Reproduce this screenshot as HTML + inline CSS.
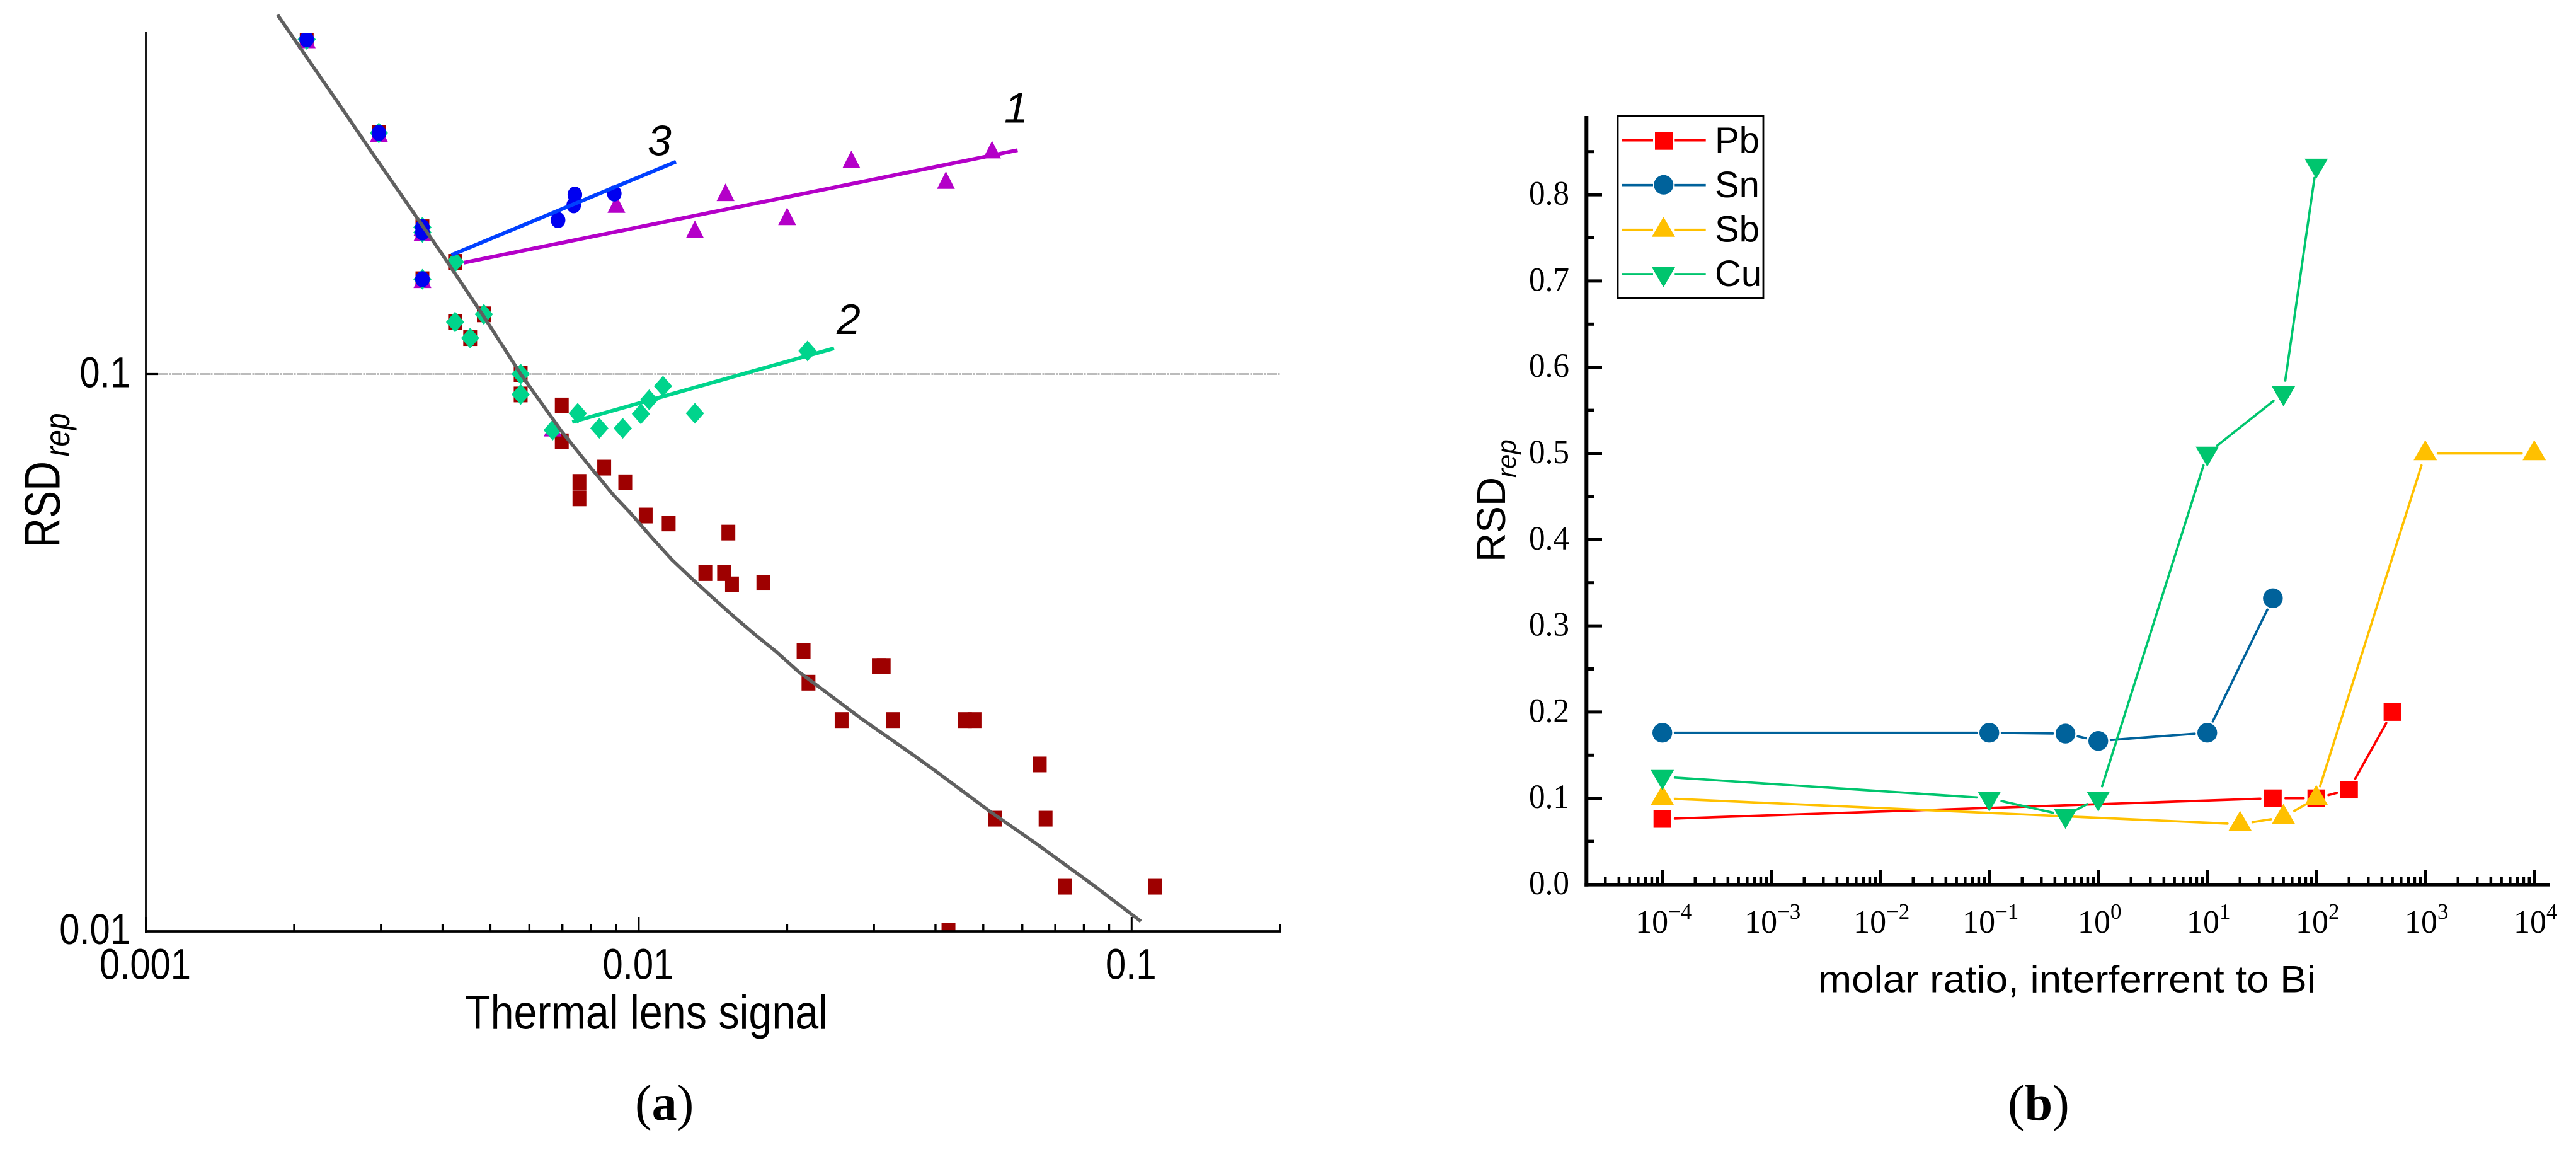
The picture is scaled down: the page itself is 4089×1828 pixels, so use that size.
<!DOCTYPE html>
<html lang="en">
<head>
<meta charset="utf-8">
<title>RSD vs thermal lens signal and molar ratio</title>
<style>
html,body{margin:0;padding:0;background:#fff;width:4089px;height:1828px;overflow:hidden}
svg{display:block}
text{font-family:"Liberation Sans",sans-serif;fill:#000}
.serif{font-family:"Liberation Serif",serif}
</style>
</head>
<body>
<svg id="figure" xmlns="http://www.w3.org/2000/svg" width="4089" height="1828" viewBox="0 0 4089 1828">
  <defs>
    <clipPath id="clip-a"><rect x="232" y="52" width="1802" height="1425"/></clipPath>
  </defs>
  <rect x="0" y="0" width="4089" height="1828" fill="#fff"/>

  <g id="panel-a">
    <line x1="251" y1="593.5" x2="2033" y2="593.5" stroke="#a6a6a6" stroke-width="2.5" stroke-dasharray="16 1.5 3 1.5"/>
    <g id="a-marks" clip-path="url(#clip-a)"></g>
    <g id="a-lines"></g>
    <g id="a-axes"></g>
    <text x="738" y="1632.5" font-size="76" textLength="576" lengthAdjust="spacingAndGlyphs">Thermal lens signal</text>
    <text transform="translate(94.7,869) rotate(-90)" font-size="80" textLength="137" lengthAdjust="spacingAndGlyphs">RSD</text>
    <text transform="translate(110,724.5) rotate(-90)" font-size="56" font-style="italic" textLength="69" lengthAdjust="spacingAndGlyphs">rep</text>
    <text x="1594" y="194.5" font-size="68" font-style="italic">1</text>
    <text x="1328" y="530" font-size="68" font-style="italic">2</text>
    <text x="1028" y="246.5" font-size="68" font-style="italic">3</text>
    <text class="serif" x="1008" y="1777" font-size="80">(<tspan font-weight="bold">a</tspan>)</text>
  </g>

  <g id="panel-b">
    <g id="b-lines"></g>
    <g id="b-marks"></g>
    <g id="b-axes"></g>
    <text x="2886" y="1574.5" font-size="60" textLength="790" lengthAdjust="spacingAndGlyphs">molar ratio, interferrent to Bi</text>
    <text transform="translate(2389,892) rotate(-90)" font-size="64">RSD</text>
    <text transform="translate(2406,758) rotate(-90)" font-size="42" font-style="italic">rep</text>
    <text class="serif" x="3187" y="1777.5" font-size="80">(<tspan font-weight="bold">b</tspan>)</text>

    <g id="legend">
      <rect x="2568" y="184" width="231" height="289" fill="#fff" stroke="#000" stroke-width="2.8"/>
      <g>
        <line x1="2574" y1="222.7" x2="2624" y2="222.7" stroke="#ff0000" stroke-width="3.7"/>
        <line x1="2658.3" y1="222.7" x2="2707.7" y2="222.7" stroke="#ff0000" stroke-width="3.7"/>
        <rect x="2627" y="210" width="29" height="27.7" fill="#ff0000"/>
        <text x="2722" y="242.3" font-size="58">Pb</text>
      </g>
      <g>
        <line x1="2574" y1="293.7" x2="2624" y2="293.7" stroke="#00629b" stroke-width="3.7"/>
        <line x1="2658.3" y1="293.7" x2="2707.7" y2="293.7" stroke="#00629b" stroke-width="3.7"/>
        <circle cx="2640.8" cy="293.3" r="15.5" fill="#00629b"/>
        <text x="2722" y="313" font-size="58">Sn</text>
      </g>
      <g>
        <line x1="2574" y1="364.7" x2="2624" y2="364.7" stroke="#ffc000" stroke-width="3.7"/>
        <line x1="2658.3" y1="364.7" x2="2707.7" y2="364.7" stroke="#ffc000" stroke-width="3.7"/>
        <polygon points="2640.5,344 2622,375.7 2659,375.7" fill="#ffc000"/>
        <text x="2722" y="383.5" font-size="58">Sb</text>
      </g>
      <g>
        <line x1="2574" y1="435" x2="2624" y2="435" stroke="#00c56e" stroke-width="3.7"/>
        <line x1="2658.3" y1="435" x2="2707.7" y2="435" stroke="#00c56e" stroke-width="3.7"/>
        <polygon points="2622,424 2659,424 2640.5,456" fill="#00c56e"/>
        <text x="2722" y="454" font-size="58">Cu</text>
      </g>
    </g>
  </g>
</svg>

<script>
/* ---------- Panel (a) data ---------- */
const aSquareX = [0.00212,0.00297,0.00364,0.00364,0.00364,0.00424,0.00424,0.00455,0.00485,0.00576,0.00576,0.00698,0.00698,0.00758,0.00758,0.00851,0.00939,0.01033,0.0115,0.0152,0.01365,0.0149,0.01546,0.0179,0.0216,0.0221,0.0258,0.0307,0.0314,0.0328,0.0459,0.048,0.0651,0.0529,0.0669,0.0733,0.1115,0.0425];
const aSquareY = [0.399,0.271,0.1835,0.1796,0.148,0.159,0.124,0.116,0.128,0.1,0.0919,0.0878,0.0757,0.064,0.0598,0.0679,0.0639,0.0557,0.0539,0.0519,0.0439,0.0439,0.0419,0.0422,0.0318,0.0279,0.0239,0.0299,0.0299,0.0239,0.0239,0.0239,0.0199,0.0159,0.0159,0.012,0.012,0.01];
const aTriangleX = [0.00212,0.00297,0.00364,0.00364,0.00364,0.00669,0.00901,0.013,0.015,0.02,0.027,0.042,0.0521];
const aTriangleY = [0.399,0.271,0.1835,0.1796,0.148,0.0801,0.202,0.182,0.212,0.192,0.243,0.223,0.253];
const aDiamondX = [0.00212,0.00297,0.00364,0.00364,0.00364,0.00424,0.00424,0.00455,0.00485,0.00576,0.00576,0.00669,0.00752,0.00832,0.00928,0.0101,0.0105,0.0112,0.013,0.022];
const aDiamondY = [0.399,0.271,0.1835,0.1796,0.148,0.159,0.124,0.116,0.128,0.1,0.0919,0.0793,0.085,0.0799,0.0799,0.0848,0.0899,0.0951,0.085,0.11];
const aCircleX = [0.00212,0.00297,0.00364,0.00364,0.00364,0.00686,0.00738,0.00742,0.00892];
const aCircleY = [0.399,0.271,0.1835,0.1796,0.148,0.189,0.201,0.21,0.211];
const aFit1X = [0.00442,0.0587];
const aFit1Y = [0.1585,0.2524];
const aFit2X = [0.00733,0.0249];
const aFit2Y = [0.082,0.1112];
const aFit3X = [0.00417,0.0119];
const aFit3Y = [0.1636,0.2406];
const aCurveX = [0.00185,0.002146,0.00248,0.002863,0.003377,0.003988,0.00485,0.00576,0.006966,0.008045,0.008285,0.008875,0.0096,0.01059,0.01168,0.01289,0.01421,0.01568,0.01729,0.01907,0.02104,0.02321,0.0256,0.02824,0.03116,0.03608,0.0397,0.0517,0.0647,0.0842,0.1044];
const aCurveY = [0.4418,0.3648,0.3031,0.2513,0.2034,0.1643,0.1268,0.1,0.079,0.06737,0.06536,0.06069,0.05639,0.05103,0.04638,0.0427,0.03948,0.03652,0.03393,0.03164,0.02926,0.02742,0.02569,0.02407,0.02265,0.02068,0.01946,0.01636,0.01425,0.01202,0.0104];
const aXTickValues = [0.001,0.01,0.1];
const aXTickLabels = ['0.001','0.01','0.1'];
const aYTickValues = [0.1,0.01];
const aYTickLabels = ['0.1','0.01'];

/* ---------- Panel (b) data ---------- */
const bPbX = [0.0001,40,100,200,500];
const bPbY = [0.076,0.1,0.1,0.11,0.2];
const bSnX = [0.0001,0.1,0.5,1,10,40];
const bSnY = [0.176,0.176,0.175,0.1665,0.176,0.332];
const bSbX = [0.0001,20,50,100,1000,10000];
const bSbY = [0.1,0.07,0.078,0.1,0.5,0.5];
const bCuX = [0.0001,0.1,0.5,1,10,50,100];
const bCuY = [0.125,0.1,0.08,0.1,0.5,0.57,0.834];
const bYTickValues = [0,0.1,0.2,0.3,0.4,0.5,0.6,0.7,0.8];
const bYTickLabels = ['0.0','0.1','0.2','0.3','0.4','0.5','0.6','0.7','0.8'];
const bYMinorValues = [0.05,0.15,0.25,0.35,0.45,0.55,0.65,0.75,0.85];
const bXExponents = [-4,-3,-2,-1,0,1,2,3,4];
const bXExponentLabels = ['\u22124','\u22123','\u22122','\u22121','0','1','2','3','4'];

/* ---------- Axis functions ---------- */
const aX = v => 231.5 + (Math.log10(v) + 3) * 782.4;
const aY = v => 1477 - (Math.log10(v) + 2) * 883.5;
const bX = v => 2638.7 + (Math.log10(v) + 4) * 173;
const bY = v => 1403.5 - v * 1368;

const NS = 'http://www.w3.org/2000/svg';
function mk(tag, attrs, parent) {
  const el = document.createElementNS(NS, tag);
  for (const k in attrs) el.setAttribute(k, attrs[k]);
  parent.appendChild(el);
  return el;
}
const aMarks = document.getElementById('a-marks');
const aLines = document.getElementById('a-lines');
const aAxes = document.getElementById('a-axes');
const bMarks = document.getElementById('b-marks');
const bLines = document.getElementById('b-lines');
const bAxes = document.getElementById('b-axes');

/* ---------- Panel (a) marks ---------- */
aSquareX.forEach((v, i) => {
  const el = mk('rect', {x: aX(v) - 11, y: aY(aSquareY[i]) - 12.5, width: 22, height: 25, fill: '#9e0000'}, aMarks);
  
  
});
aTriangleX.forEach((v, i) => {
  const x = aX(v), y = aY(aTriangleY[i]);
  const el = mk('polygon', {points: `${x},${y - 14} ${x - 14.2},${y + 14} ${x + 14.2},${y + 14}`, fill: '#b400c8'}, aMarks);
  
  
});
aDiamondX.forEach((v, i) => {
  const x = aX(v), y = aY(aDiamondY[i]);
  const el = mk('polygon', {points: `${x},${y - 16.5} ${x + 14.5},${y} ${x},${y + 16.5} ${x - 14.5},${y}`, fill: '#00d48c'}, aMarks);
  
  
});
aCircleX.forEach((v, i) => {
  const el = mk('ellipse', {cx: aX(v), cy: aY(aCircleY[i]), rx: 11.6, ry: 12.8, fill: '#0000f0'}, aMarks);
  
  
});

const fit3 = mk('line', {x1: aX(aFit3X[0]), y1: aY(aFit3Y[0]), x2: aX(aFit3X[1]), y2: aY(aFit3Y[1]), stroke: '#0040ff', 'stroke-width': 6}, aLines);


const fit1 = mk('line', {x1: aX(aFit1X[0]), y1: aY(aFit1Y[0]), x2: aX(aFit1X[1]), y2: aY(aFit1Y[1]), stroke: '#b400c8', 'stroke-width': 6}, aLines);


const fit2 = mk('line', {x1: aX(aFit2X[0]), y1: aY(aFit2Y[0]), x2: aX(aFit2X[1]), y2: aY(aFit2Y[1]), stroke: '#00d48c', 'stroke-width': 6}, aLines);


const curve = mk('polyline', {points: aCurveX.map((v, i) => `${aX(v)},${aY(aCurveY[i])}`).join(' '), fill: 'none', stroke: '#606060', 'stroke-width': 5.5, 'stroke-linejoin': 'round'}, aLines);



/* ---------- Panel (a) axes ---------- */
const aYAxis = mk('line', {x1: 231.5, y1: 50, x2: 231.5, y2: 1480, stroke: '#000', 'stroke-width': 2.8}, aAxes);


const aXAxis = mk('line', {x1: 230, y1: 1478, x2: 2034, y2: 1478, stroke: '#000', 'stroke-width': 3.8}, aAxes);


for (let d = -3; d <= -1; d++) {
  for (let m = 2; m <= 9; m++) {
    const v = m * Math.pow(10, d);
    if (v > 0.2001) continue;
    const t = mk('line', {x1: aX(v), y1: 1477, x2: aX(v), y2: 1466.7, stroke: '#000', 'stroke-width': 3.4}, aAxes);
    
    
  }
}
aXTickValues.forEach((v, i) => {
  const t = mk('line', {x1: aX(v), y1: 1477, x2: aX(v), y2: 1455, stroke: '#000', 'stroke-width': 3}, aAxes);
  
  
  const s = aXTickLabels[i];
  const lab = mk('text', {x: aX(v) - 1, y: 1553.5, 'font-size': 69, 'text-anchor': 'middle', textLength: ((s.length - 1) * 0.556 + 0.278) * 69 * 0.84, lengthAdjust: 'spacingAndGlyphs'}, aAxes);
  lab.textContent = s;
  
  
});
aYTickValues.forEach((v, i) => {
  const s = aYTickLabels[i];
  const lab = mk('text', {x: 207, y: aY(v) + 21, 'font-size': 69, 'text-anchor': 'end', textLength: ((s.length - 1) * 0.556 + 0.278) * 69 * 0.84, lengthAdjust: 'spacingAndGlyphs'}, aAxes);
  lab.textContent = s;
  
  
});
const aTick01 = mk('line', {x1: aX(0.001), y1: aY(0.1), x2: 251, y2: aY(0.1), stroke: '#000', 'stroke-width': 3.2}, aAxes);



/* ---------- Panel (b) series ---------- */
function seriesLine(xs, ys, color, name) {
  const gap = 20;
  for (let i = 0; i < xs.length - 1; i++) {
    const x0 = bX(xs[i]), y0 = bY(ys[i]), x1 = bX(xs[i + 1]), y1 = bY(ys[i + 1]);
    const len = Math.hypot(x1 - x0, y1 - y0);
    if (len <= 2 * gap) continue;
    const ux = (x1 - x0) / len, uy = (y1 - y0) / len;
    const seg = mk('line', {x1: x0 + ux * gap, y1: y0 + uy * gap, x2: x1 - ux * gap, y2: y1 - uy * gap, stroke: color, 'stroke-width': 3.7, 'stroke-linecap': 'round'}, bLines);
    
    
  }
}
seriesLine(bPbX, bPbY, '#ff0000', 'pb');
seriesLine(bSnX, bSnY, '#00629b', 'sn');
seriesLine(bSbX, bSbY, '#ffc000', 'sb');
seriesLine(bCuX, bCuY, '#00c56e', 'cu');

bPbX.forEach((v, i) => {
  const el = mk('rect', {x: bX(v) - 14, y: bY(bPbY[i]) - 14, width: 28, height: 28, fill: '#ff0000'}, bMarks);
  
  
});
bSnX.forEach((v, i) => {
  const el = mk('circle', {cx: bX(v), cy: bY(bSnY[i]), r: 15.7, fill: '#00629b'}, bMarks);
  
  
});
bSbX.forEach((v, i) => {
  const x = bX(v), y = bY(bSbY[i]);
  const el = mk('polygon', {points: `${x},${y - 21.3} ${x - 18.5},${y + 10.7} ${x + 18.5},${y + 10.7}`, fill: '#ffc000'}, bMarks);
  
  
});
bCuX.forEach((v, i) => {
  const x = bX(v), y = bY(bCuY[i]);
  const el = mk('polygon', {points: `${x},${y + 21.3} ${x - 18.5},${y - 10.7} ${x + 18.5},${y - 10.7}`, fill: '#00c56e'}, bMarks);
  
  
});

/* ---------- Panel (b) axes ---------- */
const bYAxis = mk('line', {x1: 2518.3, y1: 184, x2: 2518.3, y2: 1406.7, stroke: '#000', 'stroke-width': 6}, bAxes);


const bXAxis = mk('line', {x1: 2515.3, y1: 1403.8, x2: 4048, y2: 1403.8, stroke: '#000', 'stroke-width': 5.7}, bAxes);


bYTickValues.forEach((v, i) => {
  const t = mk('line', {x1: 2518, y1: bY(v), x2: 2543, y2: bY(v), stroke: '#000', 'stroke-width': 5}, bAxes);
  
  
  const lab = mk('text', {class: 'serif', x: 2491, y: bY(v) + 15.5, 'font-size': 54, 'text-anchor': 'end', textLength: 64, lengthAdjust: 'spacingAndGlyphs'}, bAxes);
  lab.textContent = bYTickLabels[i];
  
  
});
bYMinorValues.forEach(v => {
  const t = mk('line', {x1: 2518, y1: bY(v), x2: 2530.5, y2: bY(v), stroke: '#000', 'stroke-width': 5}, bAxes);
  
  
});
bXExponents.forEach((e, i) => {
  const v = Math.pow(10, e);
  const t = mk('line', {x1: bX(v), y1: 1403.5, x2: bX(v), y2: 1380, stroke: '#000', 'stroke-width': 4.7}, bAxes);
  
  
  const lab = mk('text', {class: 'serif', x: bX(v) + 2, y: 1480, 'font-size': 52, 'text-anchor': 'middle'}, bAxes);
  
  
  const base = mk('tspan', {}, lab);
  base.textContent = '10';
  const sup = mk('tspan', {dy: -22, 'font-size': 35}, lab);
  sup.textContent = bXExponentLabels[i];
});
for (let d = -5; d <= 4; d++) {
  for (let m = 2; m <= 9; m++) {
    const v = m * Math.pow(10, d);
    if (bX(v) > 4048 || bX(v) < 2530) continue;
    const t = mk('line', {x1: bX(v), y1: 1403.5, x2: bX(v), y2: 1392, stroke: '#000', 'stroke-width': 4.5}, bAxes);
    
    
  }
}
</script>
</body>
</html>
